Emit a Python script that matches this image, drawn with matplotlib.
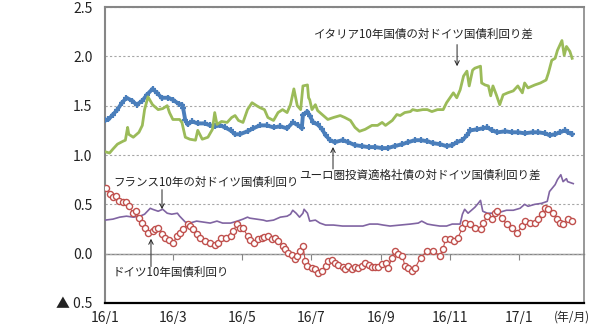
import matplotlib
matplotlib.use('Agg')
import matplotlib.pyplot as plt
import matplotlib.dates as mdates
import pandas as pd

plt.rcParams['font.family'] = ['Noto Sans CJK JP', 'DejaVu Sans']

# ---- data (days since 2016-01-01, % values) ----
italy_days = [1, 4, 7, 11, 16, 18, 20, 21, 25, 27, 30, 33, 35, 38, 40, 42, 47, 51, 55, 57, 60, 66, 68, 71, 75, 80,
              82, 86, 91, 95, 97, 99, 103, 108, 112, 115, 118, 122, 126, 130, 134, 137, 141, 144, 149, 153, 157,
              161, 164, 167, 170, 173, 175, 179, 180, 181, 183, 186, 188, 193, 197, 202, 208, 212, 217, 221, 225,
              230, 236, 241, 245, 248, 254, 258, 261, 265, 270, 272, 276, 281, 285, 289, 294, 299, 302, 305, 308,
              311, 314, 317, 320, 322, 325, 327, 332, 333, 336, 339, 341, 343, 346, 349, 352, 356, 361, 365, 369,
              371, 374, 380, 385, 390, 392, 395, 398, 400, 404, 406, 408, 411, 413]
italy_vals = [1.03, 1.02, 1.06, 1.11, 1.14, 1.15, 1.28, 1.21, 1.18, 1.20, 1.23, 1.30, 1.46, 1.59, 1.55, 1.51, 1.46,
              1.47, 1.50, 1.43, 1.36, 1.36, 1.33, 1.18, 1.16, 1.15, 1.25, 1.16, 1.18, 1.26, 1.43, 1.31, 1.34, 1.33,
              1.38, 1.40, 1.35, 1.33, 1.46, 1.53, 1.50, 1.48, 1.46, 1.38, 1.35, 1.43, 1.46, 1.43, 1.51, 1.67, 1.50,
              1.46, 1.70, 1.71, 1.58, 1.56, 1.46, 1.51, 1.45, 1.40, 1.36, 1.38, 1.40, 1.38, 1.35, 1.28, 1.24, 1.26,
              1.30, 1.30, 1.33, 1.30, 1.35, 1.41, 1.40, 1.43, 1.44, 1.46, 1.45, 1.46, 1.46, 1.44, 1.46, 1.46, 1.53,
              1.58, 1.63, 1.58, 1.66, 1.80, 1.85, 1.70, 1.86, 1.88, 1.90, 1.73, 1.71, 1.70, 1.60, 1.70, 1.61, 1.51,
              1.61, 1.63, 1.65, 1.70, 1.63, 1.73, 1.68, 1.71, 1.73, 1.76, 1.83, 1.96, 1.98, 2.06, 2.16, 2.01, 2.10,
              2.05, 1.98]

corp_days = [0, 3, 7, 11, 15, 19, 24, 28, 33, 37, 42, 46, 50, 56, 60, 65, 68, 69, 71, 73, 77, 82, 88, 93, 97, 102,
             106, 111, 115, 119, 126, 131, 137, 143, 149, 155, 161, 166, 171, 174, 175, 179, 181, 184, 188, 192,
             195, 199, 203, 210, 215, 221, 227, 233, 239, 245, 250, 256, 263, 268, 274, 279, 285, 290, 296, 302,
             307, 311, 316, 320, 323, 329, 334, 338, 342, 347, 354, 360, 365, 371, 378, 383, 389, 393, 398, 402,
             407, 409, 413]
corp_vals = [1.35, 1.36, 1.41, 1.46, 1.53, 1.58, 1.55, 1.51, 1.55, 1.61, 1.67, 1.63, 1.58, 1.58, 1.56, 1.52, 1.51,
             1.48, 1.35, 1.31, 1.34, 1.32, 1.32, 1.30, 1.29, 1.30, 1.28, 1.25, 1.21, 1.21, 1.24, 1.27, 1.30, 1.30,
             1.28, 1.29, 1.27, 1.33, 1.30, 1.27, 1.41, 1.44, 1.40, 1.33, 1.31, 1.26, 1.20, 1.15, 1.13, 1.15, 1.13,
             1.10, 1.09, 1.08, 1.08, 1.07, 1.07, 1.09, 1.11, 1.13, 1.15, 1.15, 1.14, 1.12, 1.11, 1.09, 1.10, 1.13,
             1.15, 1.20, 1.25, 1.26, 1.27, 1.28, 1.25, 1.23, 1.24, 1.23, 1.23, 1.22, 1.23, 1.23, 1.22, 1.20, 1.21,
             1.23, 1.25, 1.23, 1.21]

france_days = [0, 7, 13, 19, 25, 31, 35, 40, 42, 47, 51, 55, 59, 64, 66, 71, 75, 81, 87, 93, 99, 104, 111, 117,
               122, 126, 128, 134, 140, 143, 149, 155, 161, 164, 166, 169, 172, 175, 176, 179, 181, 186, 190, 195,
               202, 210, 219, 228, 234, 241, 246, 252, 261, 270, 277, 280, 285, 290, 296, 302, 307, 314, 316, 318,
               321, 325, 327, 330, 332, 334, 338, 343, 349, 355, 361, 367, 371, 374, 380, 386, 391, 393, 398, 400,
               403, 405, 408, 409, 414]
france_vals = [0.34, 0.35, 0.37, 0.38, 0.37, 0.38, 0.40, 0.46, 0.45, 0.43, 0.45, 0.41, 0.40, 0.41, 0.38, 0.32,
               0.31, 0.33, 0.32, 0.31, 0.33, 0.31, 0.31, 0.33, 0.35, 0.37, 0.36, 0.35, 0.34, 0.33, 0.34, 0.37, 0.38,
               0.40, 0.44, 0.41, 0.37, 0.41, 0.45, 0.41, 0.33, 0.34, 0.31, 0.29, 0.29, 0.28, 0.28, 0.28, 0.30, 0.30,
               0.29, 0.28, 0.29, 0.30, 0.31, 0.33, 0.30, 0.29, 0.28, 0.28, 0.30, 0.30, 0.40, 0.45, 0.41, 0.45, 0.47,
               0.51, 0.54, 0.43, 0.41, 0.41, 0.42, 0.44, 0.44, 0.46, 0.50, 0.48, 0.50, 0.51, 0.53, 0.63, 0.70, 0.75,
               0.80, 0.73, 0.76, 0.73, 0.71]

bund_days = [1, 4, 7, 10, 12, 16, 19, 21, 25, 27, 30, 33, 35, 38, 42, 44, 47, 50, 53, 57, 60, 64, 66, 69, 73, 75,
             78, 81, 84, 88, 93, 97, 100, 103, 107, 111, 113, 117, 119, 122, 126, 128, 132, 135, 139, 141, 144,
             148, 150, 153, 157, 159, 162, 165, 168, 170, 172, 175, 177, 179, 183, 186, 188, 192, 195, 197, 201,
             203, 206, 210, 212, 215, 218, 221, 224, 227, 230, 233, 236, 239, 241, 245, 248, 250, 254, 256, 259,
             263, 265, 268, 271, 274, 279, 285, 290, 296, 299, 301, 305, 309, 312, 316, 318, 323, 327, 332, 334,
             338, 342, 345, 347, 351, 355, 360, 364, 369, 371, 376, 380, 383, 386, 389, 392, 396, 400, 402, 405,
             409, 413]
bund_vals = [0.67, 0.60, 0.57, 0.58, 0.53, 0.52, 0.52, 0.48, 0.41, 0.43, 0.36, 0.31, 0.26, 0.21, 0.23, 0.25, 0.26,
             0.20, 0.16, 0.14, 0.11, 0.18, 0.21, 0.25, 0.30, 0.28, 0.25, 0.20, 0.16, 0.13, 0.11, 0.09, 0.11, 0.16,
             0.16, 0.18, 0.23, 0.30, 0.26, 0.26, 0.18, 0.14, 0.11, 0.15, 0.16, 0.17, 0.18, 0.15, 0.16, 0.13, 0.08,
             0.05, 0.01, -0.01, -0.05, -0.02, 0.03, 0.08, -0.07, -0.13, -0.15, -0.16, -0.20, -0.18, -0.12, -0.07,
             -0.06, -0.09, -0.11, -0.14, -0.16, -0.13, -0.16, -0.14, -0.15, -0.13, -0.09, -0.11, -0.14, -0.14,
             -0.14, -0.10, -0.09, -0.15, -0.04, 0.03, 0.00, -0.02, -0.12, -0.15, -0.18, -0.15, -0.04, 0.03, 0.03,
             -0.02, 0.05, 0.15, 0.15, 0.13, 0.16, 0.26, 0.31, 0.30, 0.26, 0.25, 0.31, 0.38, 0.35, 0.41, 0.43, 0.36,
             0.30, 0.26, 0.21, 0.28, 0.33, 0.31, 0.31, 0.35, 0.40, 0.46, 0.45, 0.41, 0.35, 0.31, 0.30, 0.35, 0.33]

tick_dates = ['2016-01-01', '2016-03-01', '2016-05-01', '2016-07-01', '2016-09-01', '2016-11-01', '2017-01-01']
tick_labels = ['16/1', '16/3', '16/5', '16/7', '16/9', '16/11', '17/1']
y_ticks = [-0.5, 0.0, 0.5, 1.0, 1.5, 2.0, 2.5]
y_labels = ['▲ 0.5', '0.0', '0.5', '1.0', '1.5', '2.0', '2.5']

label_italy = 'イタリア10年国債の対ドイツ国債利回り差'
label_corp = 'ユーロ圏投資適格社債の対ドイツ国債利回り差'
label_france = 'フランス10年の対ドイツ国債利回り'
label_bund = 'ドイツ10年国債利回り'

base = pd.Timestamp('2016-01-01')


def to_dates(days):
    return [base + pd.Timedelta(days=d) for d in days]


fig = plt.figure(figsize=(6.05, 3.24), dpi=100)
ax = fig.add_axes([105 / 605, 1 - 303 / 324, 479 / 605, 296 / 324])

ax.plot(to_dates(france_days), france_vals, color='#8064A2', lw=1.2, zorder=3)
ax.plot(to_dates(bund_days), bund_vals, color='#C0504D', lw=0.8, marker='o', ms=4.4, mfc='white',
        mec='#C0504D', mew=1.0, zorder=4)
ax.plot(to_dates(corp_days), corp_vals, color='#4A7EBB', lw=2.8, marker='+', ms=5, mew=1.6, zorder=3)
ax.plot(to_dates(italy_days), italy_vals, color='#9BBB59', lw=2.0, zorder=4)

ax.set_ylim(-0.5, 2.5)
ax.set_xlim(base, base + pd.Timedelta(days=423.5))
ax.set_yticks(y_ticks)
ax.set_yticklabels(y_labels)
ax.set_xticks([pd.Timestamp(d) for d in tick_dates])
ax.set_xticklabels(tick_labels)
ax.tick_params(axis='y', length=0, pad=9, labelsize=10, colors='#222222')
ax.tick_params(axis='x', length=0, pad=6, labelsize=10, colors='#222222')

ax.grid(axis='y', linestyle=(0, (2, 2)), color='#A6A6A6', lw=0.8)
ax.set_axisbelow(True)

for s in ['left', 'right', 'top']:
    ax.spines[s].set_color('#868686')
ax.spines['left'].set_linewidth(1.5)
ax.spines['top'].set_linewidth(1.5)
ax.spines['right'].set_linewidth(1.2)
ax.spines['bottom'].set_color('black')
ax.spines['bottom'].set_linewidth(1.6)

# zero line with tick marks
secax = ax.secondary_xaxis(1 / 6)
secax.set_xticks(mdates.date2num([pd.Timestamp(d) for d in tick_dates]))
secax.tick_params(axis='x', direction='out', length=4, color='#868686', labelbottom=False, labeltop=False)
secax.spines['bottom'].set_color('#868686')
secax.spines['bottom'].set_linewidth(1.0)

ax.annotate('(年/月)', xy=(0.975, 0), xycoords='axes fraction', xytext=(0, -8),
            textcoords='offset pixels', ha='center', va='top', fontsize=8.5, color='#222222')

fs = 8.3
ax.text(0.436, 0.907, label_italy, transform=ax.transAxes, ha='left', va='center', fontsize=fs, color='#222222')
ax.text(0.405, 0.433, label_corp, transform=ax.transAxes, ha='left', va='center', fontsize=fs, color='#222222')
ax.text(0.0167, 0.407, label_france, transform=ax.transAxes, ha='left', va='center', fontsize=fs, color='#222222')
ax.text(0.0167, 0.103, label_bund, transform=ax.transAxes, ha='left', va='center', fontsize=fs, color='#222222')

arrow = dict(arrowstyle='->', color='#222222', lw=0.7, shrinkA=0, shrinkB=0, mutation_scale=8)
ax.annotate('', xy=(0.735, 0.80), xytext=(0.735, 0.873), xycoords='axes fraction', arrowprops=arrow)
ax.annotate('', xy=(0.476, 0.527), xytext=(0.476, 0.453), xycoords='axes fraction', arrowprops=arrow)
ax.annotate('', xy=(0.119, 0.317), xytext=(0.119, 0.383), xycoords='axes fraction', arrowprops=arrow)
ax.annotate('', xy=(0.096, 0.217), xytext=(0.096, 0.123), xycoords='axes fraction', arrowprops=arrow)

fig.savefig('out.png', dpi=100)
